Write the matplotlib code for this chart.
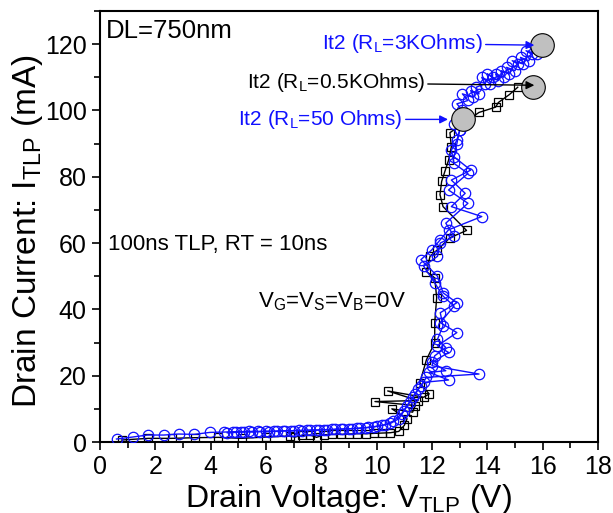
import matplotlib
matplotlib.use("Agg")
import matplotlib.pyplot as plt
from matplotlib.ticker import MultipleLocator

plt.rcParams['font.family'] = ['Liberation Sans', 'DejaVu Sans']
plt.rcParams['mathtext.fontset'] = 'custom'
plt.rcParams['mathtext.rm'] = 'Liberation Sans'
plt.rcParams['mathtext.default'] = 'regular'

# --- data (V in volts, I in mA) ---
# blue circles, R_L = 3 KOhms sweep
v_3k = [0.6, 1.18, 1.72, 2.31, 2.84, 3.4, 3.98, 4.5, 4.8, 5.1, 5.4, 5.7, 6.0, 6.3,
        6.6, 6.9, 7.2, 7.5, 7.8, 8.1, 8.4, 8.7, 9.0, 9.3, 9.6, 9.9, 10.2, 10.5,
        10.8, 11.0, 11.2, 11.4, 11.6, 11.8, 13.7, 12.0, 12.1, 12.5, 12.2, 12.4,
        12.3, 12.9, 12.4, 12.2, 11.6, 12.0, 12.3, 12.6, 13.8, 12.7, 13.2, 12.7,
        13.4, 12.8, 12.9, 13.0, 12.8, 13.3, 13.1, 12.9, 13.3, 13.1, 13.5, 13.4,
        13.7, 13.6, 13.9, 13.8, 14.1, 14.2, 14.0, 14.4, 14.3, 14.6, 14.5, 14.8,
        14.7, 15.0, 15.1, 14.9, 15.3, 15.2, 15.5, 15.6, 15.4, 15.8, 15.9]
i_3k = [0.9, 1.5, 2.1, 2.1, 2.4, 2.3, 2.9, 3.0, 3.1, 3.1, 3.2, 3.2, 3.3, 3.3,
        3.4, 3.4, 3.5, 3.6, 3.6, 3.7, 3.8, 3.9, 4.0, 4.1, 4.3, 4.6, 5.0, 5.6,
        7.0, 9.5, 12.0, 14.5, 17.0, 19.5, 20.5, 23, 26, 28.5, 31, 35,
        39, 42, 45, 50, 55, 58, 61, 64, 68, 71, 75, 79,
        82, 86, 90, 94, 96, 98, 100, 102, 103, 105, 104, 106,
        105, 107, 108, 110, 108, 110, 111, 109, 111, 110, 112, 111,
        113, 112, 114, 115, 114, 116, 115, 117, 118, 117, 118.5]

# blue circles, R_L = 50 Ohms sweep
v_50 = [4.6, 4.9, 5.2, 5.5, 5.8, 6.1, 6.4, 6.7, 7.0, 7.3, 7.6, 7.9, 8.2, 8.5,
        8.8, 9.1, 9.4, 9.7, 10.0, 10.3, 10.6, 10.9, 11.1, 11.3, 11.5, 11.7,
        12.6, 11.9, 12.5, 12.0, 12.6, 12.2, 12.9, 12.3, 12.8, 12.4, 12.1, 11.7,
        12.2, 12.3, 12.8, 12.5, 13.3, 12.6, 13.3, 12.8, 12.7, 12.9, 13.0, 13.1]
i_50 = [2.8, 2.9, 3.0, 3.0, 3.1, 3.1, 3.2, 3.3, 3.4, 3.4, 3.5, 3.6, 3.7, 3.8,
        3.9, 4.0, 4.2, 4.4, 4.7, 5.2, 6.3, 8.5, 11, 13.5, 16, 18,
        18.7, 21, 21.5, 24, 27, 29, 33, 36, 41, 44, 48, 53,
        56, 60, 62, 66, 72, 76, 81, 84, 88, 91, 94, 97]

# black squares, R_L = 0.5 KOhms sweep
v_05k = [0.78, 1.75, 2.59, 3.43, 4.28, 5.12, 6.0, 6.87, 7.05, 7.3, 7.6, 7.83,
         8.1, 8.4, 8.7, 9.0, 9.3, 9.6, 9.9, 10.2, 10.5, 10.8, 11.0, 11.1,
         10.55, 11.3, 11.4, 9.94, 11.5, 10.4, 11.7, 11.9, 11.56, 11.8, 12.1,
         12.1, 12.17, 12.1, 11.8, 11.93, 12.2, 12.65, 13.25, 12.4, 12.29, 12.35,
         12.47, 12.6, 12.7, 12.65, 13.7, 14.3, 14.4, 14.8, 15.1]
i_05k = [0.6, 1.1, 1.1, 1.3, 1.4, 1.1, 1.5, 1.8, 1.5, 2.0, 2.1, 1.4,
         2.2, 2.3, 2.3, 2.4, 2.5, 2.5, 2.6, 2.7, 2.8, 3.2, 5.0, 7.0,
         10.0, 9.0, 11.0, 12.2, 12.5, 15.4, 13.5, 14.5, 17.8, 24.8, 30,
         36, 43.5, 49.5, 51.4, 56, 58, 61.6, 63.8, 71, 74.6, 78.6,
         81.7, 85, 89, 93.3, 99.4, 101, 102.4, 104.8, 107]

# It2 failure points
it2_v = [13.12, 15.65, 15.96]
it2_i = [97.3, 107, 119.6]

blue = '#1010ff'

fig = plt.figure(figsize=(6.13, 5.13), dpi=100)
ax = fig.add_axes([0.163, 0.1384, 0.8125, 0.8402])

ax.plot(v_05k, i_05k, '-', color='black', lw=1, marker='s', ms=6,
        mfc='none', mec='black', mew=0.9, zorder=2)
ax.plot(v_50, i_50, '-', color=blue, lw=1, marker='o', ms=7.5,
        mfc='none', mec=blue, mew=0.9, zorder=3)
ax.plot(v_3k, i_3k, '-', color=blue, lw=1, marker='o', ms=7.5,
        mfc='none', mec=blue, mew=0.9, zorder=3)
ax.plot(it2_v, it2_i, 'o', ms=17, mfc='#c0c0c0', mec='black', mew=0.8,
        zorder=5, ls='none')

ax.annotate('It2 (R$_L$=3KOhms)', xy=(15.7, 119.7), xytext=(13.84, 120.2),
            color=blue, fontsize=15, ha='right', va='center',
            arrowprops=dict(arrowstyle='-|>', color=blue, lw=1,
                            mutation_scale=12, shrinkA=0, shrinkB=0), zorder=6)
ax.annotate('It2 (R$_L$=0.5KOhms)', xy=(15.7, 107.6), xytext=(11.75, 108.3),
            color='black', fontsize=15, ha='right', va='center',
            arrowprops=dict(arrowstyle='-|>', color='black', lw=1,
                            mutation_scale=12, shrinkA=0, shrinkB=0), zorder=6)
ax.annotate('It2 (R$_L$=50 Ohms)', xy=(12.58, 97.3), xytext=(10.95, 97.3),
            color=blue, fontsize=15, ha='right', va='center',
            arrowprops=dict(arrowstyle='-|>', color=blue, lw=1,
                            mutation_scale=12, shrinkA=0, shrinkB=0), zorder=6)

ax.text(0.2, 124, 'DL=750nm', fontsize=18.5, va='center', ha='left')
ax.text(0.3, 59.5, '100ns TLP, RT = 10ns', fontsize=16, va='center', ha='left')
ax.text(5.7, 42.4, 'V$_G$=V$_S$=V$_B$=0V', fontsize=16, va='center', ha='left')

ax.set_xlim(0, 18)
ax.set_ylim(0, 130)
ax.xaxis.set_major_locator(MultipleLocator(2))
ax.xaxis.set_minor_locator(MultipleLocator(1))
ax.yaxis.set_major_locator(MultipleLocator(20))
ax.yaxis.set_minor_locator(MultipleLocator(10))
ax.tick_params(which='both', direction='out', top=False, right=False, width=1.2)
ax.tick_params(which='major', length=6, labelsize=18)
ax.tick_params(which='minor', length=4)
for s in ax.spines.values():
    s.set_linewidth(1.5)

fig.text(0.569, 0.0117, 'Drain Voltage: V$_{TLP}$ (V)', fontsize=23,
         ha='center', va='baseline')
fig.text(0.045, 0.55, 'Drain Current: I$_{TLP}$ (mA)', fontsize=24,
         ha='center', va='center', rotation=90)

fig.savefig('out.png', dpi=100)
